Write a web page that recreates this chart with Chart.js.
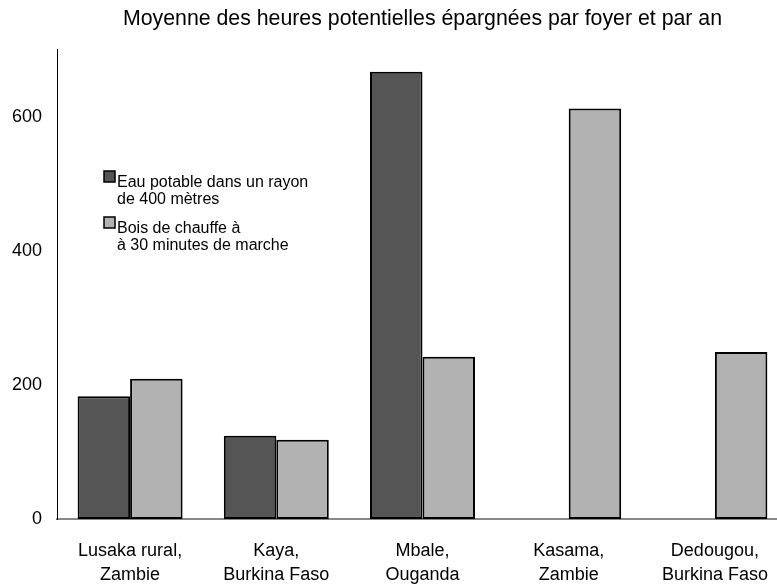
<!DOCTYPE html>
<html lang="fr">
<head>
  <meta charset="UTF-8" />
  <title>Heures épargnées</title>
  <script src="https://cdn.jsdelivr.net/npm/chart.js"></script>
</head>
<body style="margin: 0; padding: 0; background: #fff; overflow: hidden;">

  <!-- the plot runs a little past the right edge of the window, as in the original -->
  <div style="width: 790px; height: 584px; position: relative;">
    <canvas id="barChart"></canvas>
  </div>

  <script>
    const categories = [
      ['Lusaka rural,', 'Zambie'],
      ['Kaya,', 'Burkina Faso'],
      ['Mbale,', 'Ouganda'],
      ['Kasama,', 'Zambie'],
      ['Dedougou,', 'Burkina Faso']
    ];
    const eauValues = [183, 124, 667, null, null];
    const boisValues = [209, 118, 242, 612, 249];
    const eauLegend = ['Eau potable dans un rayon', 'de 400 mètres'];
    const boisLegend = ['Bois de chauffe à', 'à 30 minutes de marche'];
    const yTicks = [0, 200, 400, 600];

    const fontFamily = '"Liberation Sans", Arial, sans-serif';

    // legend drawn by hand: two lines per entry, placed inside the plot
    const innerLegend = {
      id: 'innerLegend',
      afterDraw(chart) {
        const ctx = chart.ctx;
        const entries = [
          { lines: eauLegend, color: chart.data.datasets[0].backgroundColor, y: 171 },
          { lines: boisLegend, color: chart.data.datasets[1].backgroundColor, y: 217 }
        ];
        ctx.save();
        ctx.font = '16px ' + fontFamily;
        ctx.textBaseline = 'alphabetic';
        entries.forEach(e => {
          ctx.fillStyle = e.color;
          ctx.fillRect(104, e.y, 11, 11);
          ctx.strokeStyle = '#000';
          ctx.lineWidth = 1.5;
          ctx.strokeRect(104, e.y, 11, 11);
          ctx.fillStyle = '#000';
          e.lines.forEach((line, i) => {
            ctx.fillText(line, 117, e.y + 16 + i * 17);
          });
        });
        ctx.restore();
      }
    };

    const ctx = document.getElementById('barChart').getContext('2d');
    new Chart(ctx, {
      type: 'bar',
      data: {
        labels: categories,
        datasets: [
          {
            label: eauLegend.join(' '),
            data: eauValues,
            backgroundColor: '#555555',
            borderColor: '#000',
            borderWidth: 2,
            borderSkipped: false
          },
          {
            label: boisLegend.join(' '),
            data: boisValues,
            backgroundColor: '#b2b2b2',
            borderColor: '#000',
            borderWidth: 2,
            borderSkipped: false
          }
        ]
      },
      options: {
        responsive: true,
        maintainAspectRatio: false,
        animation: false,
        categoryPercentage: 0.718,
        barPercentage: 1.0,
        layout: {
          padding: { left: 0, right: 2, top: 0, bottom: 0 }
        },
        scales: {
          x: {
            grid: { display: false, drawTicks: false },
            border: { display: true, color: '#888', width: 2 },
            afterFit(scale) { scale.height = 65; },
            ticks: {
              color: '#000',
              padding: 21,
              maxRotation: 0,
              font: { family: fontFamily, size: 18, lineHeight: 1.28 }
            }
          },
          y: {
            min: 0,
            max: 700,
            grid: { display: false, drawTicks: false },
            border: { display: true, color: '#000', width: 1 },
            afterFit(scale) { scale.width = 57; },
            afterBuildTicks(scale) {
              scale.ticks = yTicks.map(v => ({ value: v }));
            },
            ticks: {
              color: '#000',
              padding: 15,
              font: { family: fontFamily, size: 18 }
            }
          }
        },
        plugins: {
          legend: { display: false },
          tooltip: { enabled: false },
          title: {
            display: true,
            fullSize: false,
            text: 'Moyenne des heures potentielles épargnées par foyer et par an',
            color: '#000',
            font: { family: fontFamily, size: 21.3, weight: 'normal', lineHeight: 1.2 },
            padding: { top: 6, bottom: 18 }
          }
        }
      },
      plugins: [innerLegend]
    });
  </script>
</body>
</html>
